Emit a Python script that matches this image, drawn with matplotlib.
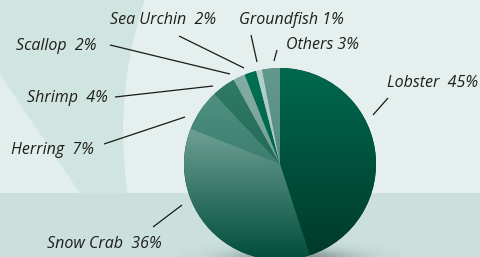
import numpy as np
import matplotlib
matplotlib.use("Agg")
import matplotlib.pyplot as plt
from matplotlib.patches import Polygon, Rectangle
from matplotlib.colors import LinearSegmentedColormap

# ---- data ----
species = ["Lobster", "Snow Crab", "Herring", "Shrimp", "Scallop", "Sea Urchin", "Groundfish", "Others"]
shares = [45, 36, 7, 4, 2, 2, 1, 3]
labels = ["Lobster  45%", "Snow Crab  36%", "Herring  7%", "Shrimp  4%", "Scallop  2%",
          "Sea Urchin  2%", "Groundfish 1%", "Others 3%"]
# gradient colours (top, bottom) per slice
top_colors = ["#00694f", "#6fa195", "#4f9080", "#2f7a66", "#84ada3", "#007052", "#b6d1cb", "#62998c"]
bot_colors = ["#003a2a", "#004c3a", "#3d7f6f", "#246a57", "#76a096", "#00644a", "#a9c6c0", "#568d80"]

W, H = 480, 257
fig = plt.figure(figsize=(W / 100, H / 100), dpi=100)
ax = fig.add_axes([0, 0, 1, 1])

def Y(y):
    return H - y

# ---- background ----
ax.add_patch(Rectangle((0, 0), W, H, facecolor="#e5efed", edgecolor="none", zorder=0))
cx, cy, rr = 536, 132, 413
ys = np.linspace(0, 193, 60)
xs = cx - np.sqrt(rr ** 2 - (ys - cy) ** 2)
band = [(0, Y(0))] + [(x, Y(y)) for x, y in zip(xs, ys)] + [(0, Y(193))]
ax.add_patch(Polygon(band, closed=True, facecolor="#d0e4e0", edgecolor="none", zorder=0.5))
ax.add_patch(Polygon([(0, Y(74)), (80, Y(193)), (0, Y(193))], closed=True,
                     facecolor="#e2eeec", edgecolor="none", zorder=0.6))
ax.add_patch(Rectangle((0, 0), W, Y(193), facecolor="#cbe0dc", edgecolor="none", zorder=0.7))

# ---- pie ----
PCX, PCY, R = 280, Y(164), 96
# soft shadow under the pie
gx = np.linspace(180, 400, 220)
gy = np.linspace(Y(257), Y(225), 40)
GX, GY = np.meshgrid(gx, gy)
alpha = 0.45 * np.exp(-((GX - 292) / 60.0) ** 2 - ((GY - Y(258)) / 9.0) ** 2)
shadow = np.zeros(GX.shape + (4,))
shadow[..., :3] = np.array([0.12, 0.18, 0.16])
shadow[..., 3] = alpha
ax.imshow(shadow, extent=(180, 400, Y(257), Y(225)), origin="lower", aspect="auto",
          zorder=1, interpolation="bilinear")

wedges, _ = ax.pie(shares, startangle=90, counterclock=False, center=(PCX, PCY), radius=R,
                   colors=bot_colors, wedgeprops=dict(linewidth=0), frame=True)
grad = np.linspace(0, 1, 256).reshape(-1, 1)
for w, ct, cb in zip(wedges, top_colors, bot_colors):
    w.set_zorder(2)
    ext = w.get_path().get_extents()
    cmap = LinearSegmentedColormap.from_list("g", [cb, ct])
    im = ax.imshow(grad, extent=(ext.x0, ext.x1, ext.y0, ext.y1), origin="lower", cmap=cmap,
                   aspect="auto", zorder=2.5, interpolation="bilinear")
    im.set_clip_path(w)

# ---- labels (text left x, text centre y, line outer end, line inner end) in px ----
text_pos = {
    "Lobster": (387, 83), "Snow Crab": (47, 244), "Herring": (11, 150), "Shrimp": (27, 98),
    "Scallop": (16, 46), "Sea Urchin": (110, 20), "Groundfish": (239, 20), "Others": (286, 45),
}
line_out = {
    "Lobster": (388, 98), "Snow Crab": (153, 227), "Herring": (104, 144), "Shrimp": (115, 97),
    "Scallop": (110, 45), "Sea Urchin": (179, 36), "Groundfish": (251, 35), "Others": (277, 50),
}
line_in = {
    "Lobster": (373, 115), "Snow Crab": (182, 205), "Herring": (185, 117), "Shrimp": (213, 86),
    "Scallop": (230, 74), "Sea Urchin": (244, 68), "Groundfish": (257, 62), "Others": (274, 61),
}
fams = ["Open Sans", "DejaVu Sans"]
for name, lab in zip(species, labels):
    tx, ty = text_pos[name]
    ax.text(tx, Y(ty), lab, ha="left", va="center", fontsize=11.5, style="italic",
            family=fams, color="#1e1e1e", zorder=5)
    (x0, y0), (x1, y1) = line_out[name], line_in[name]
    ax.plot([x0, x1], [Y(y0), Y(y1)], color="#1a1a1a", lw=0.9, zorder=5, solid_capstyle="butt")

ax.set_xlim(0, W)
ax.set_ylim(0, H)
ax.set_aspect("auto")
ax.axis("off")
fig.savefig("out.png", dpi=100)
